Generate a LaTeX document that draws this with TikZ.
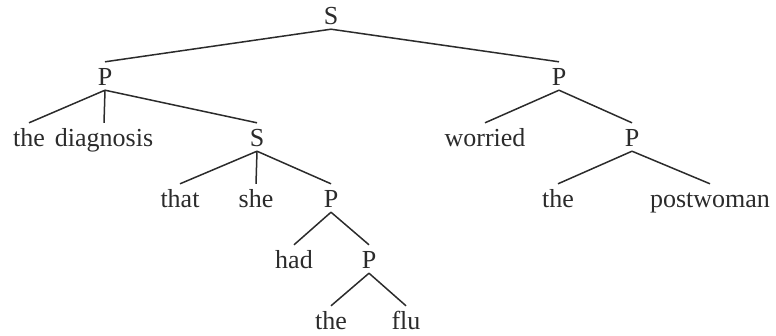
\documentclass[tikz,border=0pt]{standalone}
\usepackage{fontspec}
\setmainfont{Liberation Serif}
\definecolor{ink}{rgb}{0.17,0.17,0.17}
\begin{document}
\begin{tikzpicture}[x=1bp,y=-1bp,
  lbl/.style={anchor=base,inner xsep=0pt,inner ysep=5bp,text height=18bp,text depth=0pt,
    font=\fontsize{26bp}{30bp}\selectfont,text=ink},
  edge/.style={draw=ink,line width=1.5bp}]
\useasboundingbox (0,0) rectangle (776,335);
% row 0
\node[lbl] (s0) at (331,24) {S};
% row 1
\node[lbl] (p1) at (105,85) {P};
\node[lbl] (p2) at (559,85) {P};
% row 2
\node[lbl] (the1) at (29,146) {the};
\node[lbl] (diag) at (104,146) {diagnosis};
\node[lbl] (s1) at (257,146) {S};
\node[lbl] (worr) at (485,146) {worried};
\node[lbl] (p3) at (632,146) {P};
% row 3
\node[lbl] (that) at (180,207) {that};
\node[lbl] (she) at (256,207) {she};
\node[lbl] (p4) at (331,207) {P};
\node[lbl] (the2) at (558,207) {the};
\node[lbl] (post) at (710,207) {postwoman};
% row 4
\node[lbl] (had) at (294,268) {had};
\node[lbl] (p5) at (369,268) {P};
% row 5
\node[lbl] (the3) at (331,329) {the};
\node[lbl] (flu) at (406,329) {flu};
% edges
\draw[edge] (s0.south) -- (p1.north);
\draw[edge] (s0.south) -- (p2.north);
\draw[edge] (p1.south) -- (the1.north);
\draw[edge] (p1.south) -- (diag.north);
\draw[edge] (p1.south) -- (s1.north);
\draw[edge] (s1.south) -- (that.north);
\draw[edge] (s1.south) -- (she.north);
\draw[edge] (s1.south) -- (p4.north);
\draw[edge] (p4.south) -- (had.north);
\draw[edge] (p4.south) -- (p5.north);
\draw[edge] (p5.south) -- (the3.north);
\draw[edge] (p5.south) -- (flu.north);
\draw[edge] (p2.south) -- (worr.north);
\draw[edge] (p2.south) -- (p3.north);
\draw[edge] (p3.south) -- (the2.north);
\draw[edge] (p3.south) -- (post.north);
\end{tikzpicture}
\end{document}
